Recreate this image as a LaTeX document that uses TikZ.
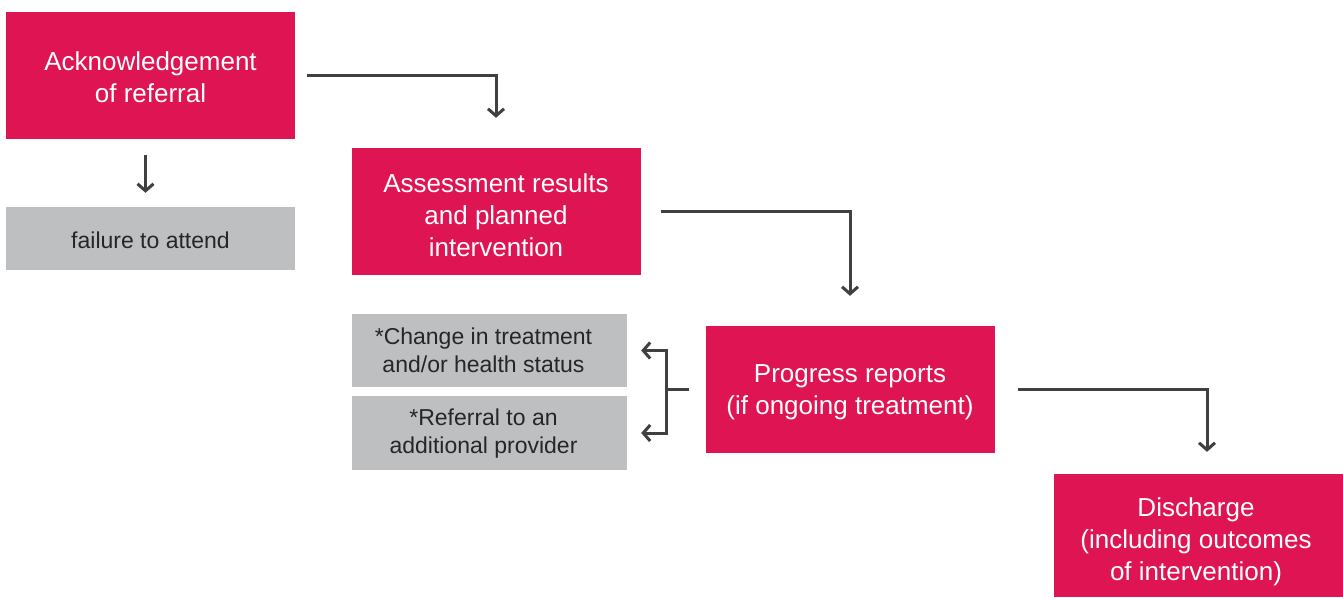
\documentclass[tikz,border=0pt]{standalone}
\usepackage{fontspec}
\setmainfont{Liberation Sans}
\usetikzlibrary{arrows.meta}
\definecolor{pinkbox}{HTML}{DF1452}
\definecolor{graybox}{HTML}{BEBFC1}
\definecolor{arrowgray}{HTML}{404042}
\newcommand{\mylines}[3][0pt]{\hspace*{#1}\raisebox{#2}[\height][\depth]{\begin{tabular}{@{}c@{}}#3\end{tabular}}}
\tikzset{
  pinkstep/.style={fill=pinkbox, draw=none, text=white, align=center, inner sep=0pt,
    minimum width=289pt, minimum height=127pt, font=\fontsize{26}{32}\selectfont},
  graystep/.style={fill=graybox, draw=none, text=black!85, align=center, inner sep=0pt,
    minimum width=275pt, font=\fontsize{23}{28}\selectfont},
  conn/.style={draw=arrowgray, line width=3pt, -{Straight Barb[length=7pt,width=16pt,line width=3pt]}},
}
\begin{document}
\begin{tikzpicture}[x=1pt,y=-1pt]
\useasboundingbox (0,0) rectangle (1343,597);
\node[pinkstep] (ack) at (150.5,75.5) {\mylines{-5pt}{Acknowledgement\\of referral}};
\node[graystep, minimum width=289pt, minimum height=63pt] (fail) at (150.5,238.5) {\mylines{-4pt}{failure to attend}};
\node[pinkstep] (assess) at (496,211.5) {\mylines{-7pt}{Assessment results\\and planned\\intervention}};
\node[graystep, minimum height=73pt] (change) at (489.5,350.5) {\mylines[-12pt]{-2pt}{*Change in treatment\\and/or health status}};
\node[graystep, minimum height=74pt] (refer) at (489.5,433) {\mylines[-12pt]{-1pt}{*Referral to an\\additional provider}};
\node[pinkstep] (prog) at (850,389.5) {\mylines{-2.5pt}{Progress reports\\(if ongoing treatment)}};
\node[pinkstep, minimum height=123pt] (dis) at (1198,535.5) {\mylines[-4pt]{-7pt}{Discharge\\(including outcomes\\of intervention)}};
% connectors
\draw[conn, shorten <=12pt, shorten >=30pt] (ack.east) -| (assess.north);
\draw[conn, shorten <=16pt, shorten >=14pt] ([xshift=-5pt]ack.south) -- ([xshift=-5pt]fail.north);
\draw[conn, shorten <=20pt, shorten >=30pt] (assess.east) -| (prog.north);
\coordinate (split) at ([xshift=-39pt]prog.west);
\draw[draw=arrowgray, line width=3pt, shorten <=16pt] (prog.west) -- (split);
\draw[conn, shorten >=14pt, line cap=rect] (split) |- (change.east);
\draw[conn, shorten >=14pt, line cap=rect] (split) |- (refer.east);
\draw[conn, shorten <=23pt, shorten >=22pt] (prog.east) -| ([xshift=9pt]dis.north);
\end{tikzpicture}
\end{document}
